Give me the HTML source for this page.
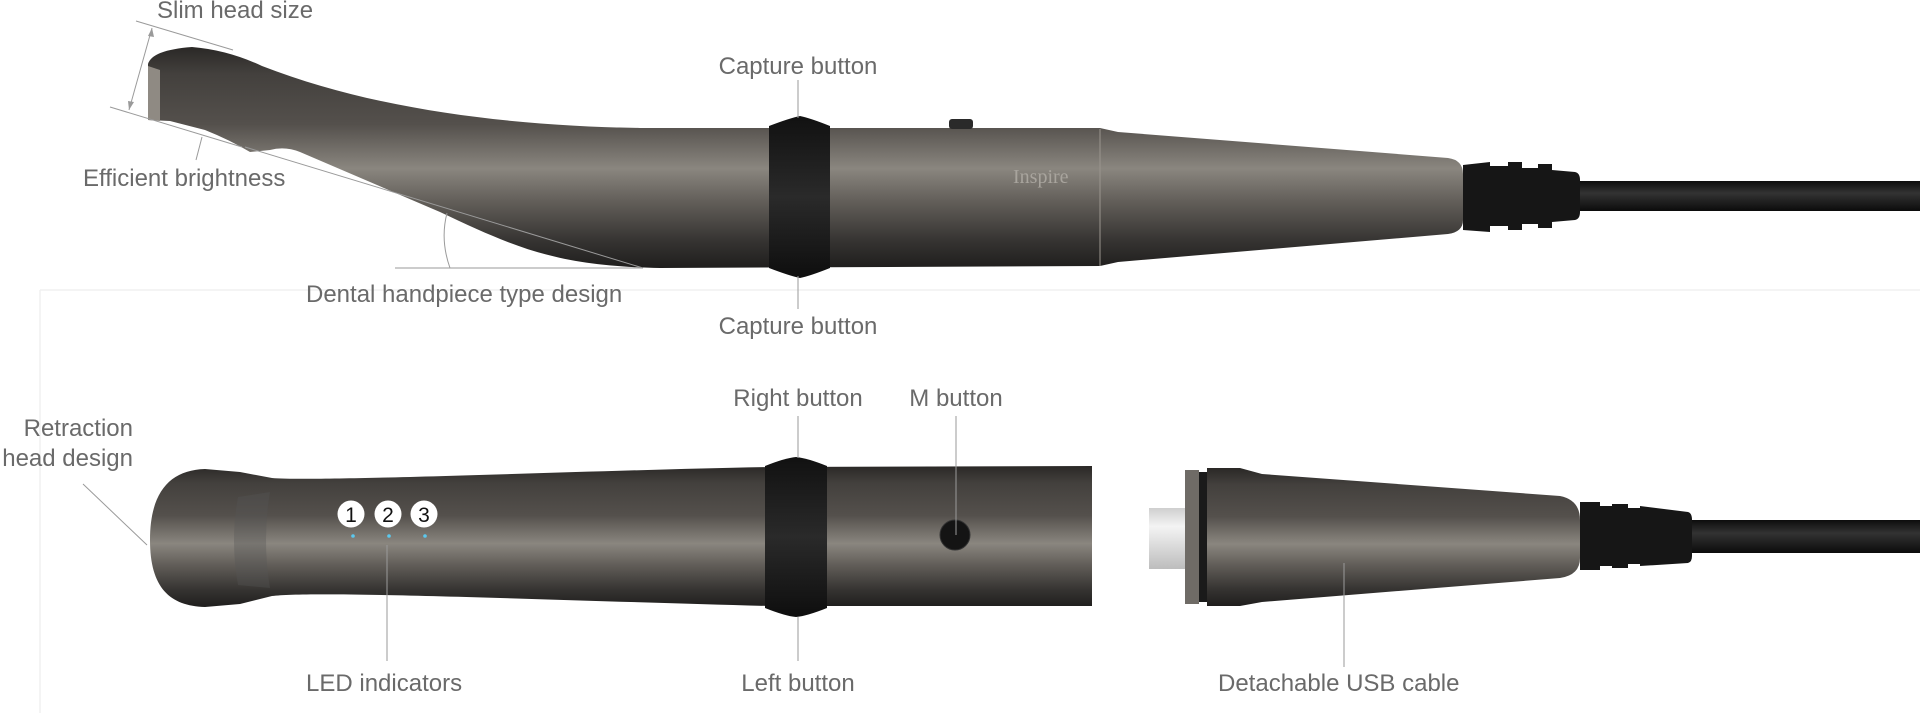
<!DOCTYPE html>
<html><head><meta charset="utf-8"><style>
html,body{margin:0;padding:0;background:#fff;}
svg{display:block;}
text{font-family:"Liberation Sans",Arial,sans-serif;font-size:24px;fill:#6a6a6a;}
</style></head><body>
<svg width="1920" height="713" viewBox="0 0 1920 713" xmlns="http://www.w3.org/2000/svg">
<defs>
<linearGradient id="metal" x1="0" y1="0" x2="0" y2="1">
<stop offset="0" stop-color="#2a2826"/><stop offset="0.12" stop-color="#43403d"/>
<stop offset="0.35" stop-color="#54504c"/><stop offset="0.55" stop-color="#8a867f"/>
<stop offset="0.7" stop-color="#625e59"/><stop offset="0.88" stop-color="#353331"/>
<stop offset="1" stop-color="#1f1e1d"/></linearGradient>
<linearGradient id="band" x1="0" y1="0" x2="0" y2="1">
<stop offset="0" stop-color="#111"/><stop offset="0.5" stop-color="#2a2a2a"/><stop offset="1" stop-color="#0e0e0e"/></linearGradient>
<linearGradient id="cable" x1="0" y1="0" x2="0" y2="1">
<stop offset="0" stop-color="#0d0d0d"/><stop offset="0.4" stop-color="#333"/><stop offset="1" stop-color="#0b0b0b"/></linearGradient>
<linearGradient id="silver" x1="0" y1="0" x2="0" y2="1">
<stop offset="0" stop-color="#cfcfcf"/><stop offset="0.3" stop-color="#f4f4f4"/><stop offset="1" stop-color="#bdbdbd"/></linearGradient>
</defs>

<line x1="40" y1="290" x2="1920" y2="290" stroke="#f0f0f0" stroke-width="1.5"/>
<line x1="40" y1="290" x2="40" y2="713" stroke="#f0f0f0" stroke-width="1.5"/>

<!-- TOP handpiece -->
<rect x="1580" y="181" width="340" height="30" fill="url(#cable)"/>
<path d="M1463,165 L1490,162 L1490,166 L1508,166 L1508,162 L1522,162 L1522,168 L1538,168 L1538,164 L1552,164 L1552,170 L1575,172 Q1580,173 1580,180 L1580,212 Q1580,219 1575,220 L1552,222 L1552,228 L1538,228 L1538,224 L1522,224 L1522,230 L1508,230 L1508,226 L1490,226 L1490,232 L1463,230 Z" fill="#161616"/>
<path d="M148,120 L148,64 Q152,50 192,47 Q228,50 262,66 C380,112 520,126 640,128 L1100,128 L1118,132 L1448,158 Q1463,160 1463,174 L1463,220 Q1463,232 1448,234 L1118,262 L1100,266 L660,268 C560,266 520,250 440,212 L300,152 Q285,146 270,150 L250,152 Q230,140 205,130 L170,121 Z" fill="url(#metal)"/>
<path d="M148,66 L160,70 L160,121 L148,120 Z" fill="#8f8a83"/>
<line x1="1100" y1="129" x2="1100" y2="266" stroke="#9a958e" stroke-width="1"/>
<rect x="949" y="119" width="24" height="10" rx="3" fill="#2a2a2a"/>
<text x="1013" y="183" style="font-family:'Liberation Serif',serif;font-size:20px;fill:#a8a49d">Inspire</text>
<path d="M769,126 Q790,118 800,116 Q810,118 830,126 L830,268 Q810,276 800,278 Q790,276 769,268 Z" fill="url(#band)"/>

<g stroke="#9a9a9a" stroke-width="1" fill="none">
<line x1="136" y1="21" x2="233" y2="50"/>
<line x1="110" y1="107" x2="242" y2="147"/>
<line x1="152" y1="28" x2="129" y2="110"/>
<line x1="202" y1="137" x2="196" y2="160"/>
<line x1="245" y1="147" x2="643" y2="268"/>
<line x1="395" y1="268" x2="643" y2="268"/>
<path d="M447,213 Q440,240 450,268"/>
<line x1="798" y1="80" x2="798" y2="118"/>
<line x1="798" y1="276" x2="798" y2="309"/>
</g>
<path d="M152,28 l-4,8 l6,1 z M129,110 l-1,-9 l6,1 z" fill="#9a9a9a"/>
<text x="157" y="18">Slim head size</text>
<text x="798" y="74" text-anchor="middle">Capture button</text>
<text x="83" y="186">Efficient brightness</text>
<text x="306" y="302">Dental handpiece type design</text>
<text x="798" y="334" text-anchor="middle">Capture button</text>

<!-- BOTTOM handpiece -->
<path d="M150,540 C150,492 170,470 205,469 L240,472 L272,478 C320,482 600,470 770,467 L1092,466 L1092,606 L770,606 C600,602 320,590 272,596 L240,604 L205,607 C170,606 150,588 150,540 Z" fill="url(#metal)"/>
<path d="M238,497 Q230,540 238,585 L270,588 Q262,540 270,492 Z" fill="#555" opacity="0.35"/>
<path d="M765,466 Q785,458 796,457 Q807,458 827,466 L827,608 Q807,616 796,617 Q785,616 765,608 Z" fill="url(#band)"/>
<circle cx="955" cy="535" r="15" fill="#141414" stroke="#333"/>
<circle cx="351" cy="514" r="13.5" fill="#fff"/><circle cx="388" cy="514" r="13.5" fill="#fff"/><circle cx="424" cy="514" r="13.5" fill="#fff"/>
<text x="351" y="522" text-anchor="middle" style="fill:#111;font-size:21px">1</text>
<text x="388" y="522" text-anchor="middle" style="fill:#111;font-size:21px">2</text>
<text x="424" y="522" text-anchor="middle" style="fill:#111;font-size:21px">3</text>
<circle cx="353" cy="536" r="1.8" fill="#5bc8ee"/><circle cx="389" cy="536" r="1.8" fill="#5bc8ee"/><circle cx="425" cy="536" r="1.8" fill="#5bc8ee"/>

<!-- USB -->
<rect x="1690" y="520" width="230" height="33" fill="url(#cable)"/>
<path d="M1580,502 L1600,502 L1600,506 L1612,506 L1612,504 L1628,504 L1628,508 L1640,508 L1640,506 L1688,512 Q1692,513 1692,520 L1692,556 Q1692,562 1688,563 L1640,566 L1640,564 L1628,564 L1628,568 L1612,568 L1612,566 L1600,566 L1600,570 L1580,570 Z" fill="#161616"/>
<rect x="1149" y="508" width="38" height="61" fill="url(#silver)"/>
<rect x="1185" y="470" width="14" height="134" fill="#6f6b66"/>
<rect x="1199" y="472" width="8" height="130" fill="#1a1a1a"/>
<path d="M1207,468 L1240,468 L1262,474 L1560,496 Q1580,500 1580,520 L1580,558 Q1580,575 1560,578 L1262,602 L1240,606 L1207,606 Z" fill="url(#metal)"/>

<g stroke="#9a9a9a" stroke-width="1">
<line x1="83" y1="484" x2="147" y2="545"/>
<line x1="387" y1="545" x2="387" y2="661"/>
<line x1="798" y1="416" x2="798" y2="458"/>
<line x1="798" y1="617" x2="798" y2="661"/>
<line x1="956" y1="416" x2="956" y2="535"/>
<line x1="1344" y1="563" x2="1344" y2="667"/>
</g>
<text x="133" y="436" text-anchor="end">Retraction</text>
<text x="133" y="466" text-anchor="end">head design</text>
<text x="798" y="406" text-anchor="middle">Right button</text>
<text x="956" y="406" text-anchor="middle">M button</text>
<text x="306" y="691">LED indicators</text>
<text x="798" y="691" text-anchor="middle">Left button</text>
<text x="1218" y="691">Detachable USB cable</text>
</svg>
</body></html>
